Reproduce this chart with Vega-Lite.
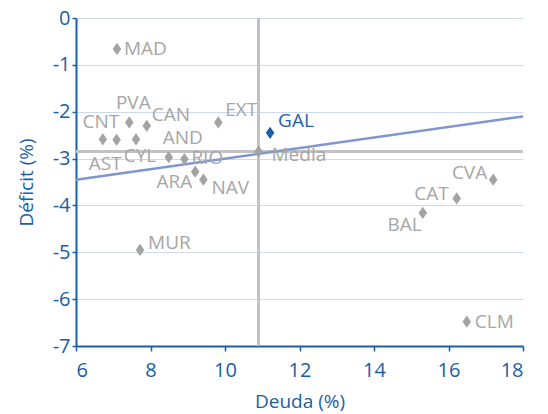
{
  "$schema": "https://vega.github.io/schema/vega-lite/v6.json",
  "width": 447,
  "height": 328,
  "autosize": {"type": "none"},
  "padding": {"left": 76, "top": 18, "right": 25, "bottom": 68},
  "background": "white",
  "config": {
    "view": {"stroke": null},
    "font": "Open Sans",
    "axis": {
      "labelFont": "Open Sans",
      "titleFont": "Open Sans",
      "labelFontSize": 20,
      "titleFontSize": 19,
      "labelColor": "#1a5ea6",
      "titleColor": "#1a5ea6",
      "titleFontWeight": "normal",
      "domainColor": "#1a5ea6",
      "domainWidth": 2,
      "tickColor": "#1a5ea6",
      "tickWidth": 1.5,
      "tickSize": 5,
      "gridColor": "#cfd9ee",
      "gridWidth": 1
    }
  },
  "datasets": {
    "pts": [
      {"name": "MAD", "deuda": 7.10, "deficit": -0.66},
      {"name": "PVA", "deuda": 7.43, "deficit": -2.23},
      {"name": "CAN", "deuda": 7.90, "deficit": -2.30},
      {"name": "CNT", "deuda": 6.72, "deficit": -2.59},
      {"name": "AST", "deuda": 7.09, "deficit": -2.60},
      {"name": "CYL", "deuda": 7.61, "deficit": -2.59},
      {"name": "EXT", "deuda": 9.82, "deficit": -2.23},
      {"name": "GAL", "deuda": 11.21, "deficit": -2.45},
      {"name": "AND", "deuda": 8.49, "deficit": -2.97},
      {"name": "RIO", "deuda": 8.91, "deficit": -3.01},
      {"name": "ARA", "deuda": 9.20, "deficit": -3.28},
      {"name": "NAV", "deuda": 9.42, "deficit": -3.45},
      {"name": "Media", "deuda": 10.90, "deficit": -2.85},
      {"name": "MUR", "deuda": 7.72, "deficit": -4.95},
      {"name": "CVA", "deuda": 17.20, "deficit": -3.45},
      {"name": "CAT", "deuda": 16.22, "deficit": -3.85},
      {"name": "BAL", "deuda": 15.31, "deficit": -4.16},
      {"name": "CLM", "deuda": 16.49, "deficit": -6.48}
    ],
    "trend": [
      {"deuda": 6, "deficit": -3.45},
      {"deuda": 18, "deficit": -2.10}
    ]
  },
  "layer": [
    {
      "data": {"name": "pts"},
      "mark": {"type": "rule", "color": "#c2c2c2", "strokeWidth": 3},
      "transform": [{"filter": "datum.name == 'Media'"}],
      "encoding": {
        "x": {"field": "deuda", "type": "quantitative", "scale": {"domain": [6, 18], "nice": false, "zero": false},
          "axis": {"title": "Deuda (%)", "values": [6, 8, 10, 12, 14, 16, 18], "grid": false, "labelPadding": 9, "titlePadding": 12, "labelExpr": "toString(datum.value)"}}
      }
    },
    {
      "data": {"name": "pts"},
      "mark": {"type": "rule", "color": "#c2c2c2", "strokeWidth": 3},
      "transform": [{"filter": "datum.name == 'Media'"}],
      "encoding": {
        "y": {"field": "deficit", "type": "quantitative", "scale": {"domain": [-7, 0], "nice": false, "zero": false},
          "axis": {"title": "Déficit (%)", "values": [0, -1, -2, -3, -4, -5, -6, -7], "grid": true, "tickSize": 4, "labelPadding": 2, "titlePadding": 16, "labelExpr": "toString(datum.value)"}}
      }
    },
    {
      "data": {"name": "trend"},
      "mark": {"type": "line", "color": "#7f97cf", "strokeWidth": 2.5},
      "encoding": {
        "x": {"field": "deuda", "type": "quantitative"},
        "y": {"field": "deficit", "type": "quantitative"}
      }
    },
    {
      "data": {"name": "pts"},
      "mark": {"type": "point", "shape": "M0,-1L0.7,0L0,1L-0.7,0Z", "filled": true, "opacity": 1, "size": 150},
      "encoding": {
        "x": {"field": "deuda", "type": "quantitative"},
        "y": {"field": "deficit", "type": "quantitative"},
        "color": {"condition": {"test": "datum.name == 'GAL'", "value": "#1f5fa8"}, "value": "#a3a3a3"}
      }
    },
    {
      "data": {"name": "pts"},
      "encoding": {
        "x": {"field": "deuda", "type": "quantitative"},
        "y": {"field": "deficit", "type": "quantitative"},
        "text": {"field": "name"},
        "color": {"condition": {"test": "datum.name == 'GAL'", "value": "#1f5fa8"}, "value": "#a6a6a6"}
      },
      "layer": [
        {"transform": [{"filter": "datum.name == 'MAD'"}], "mark": {"type": "text", "fontSize": 19, "align": "left", "baseline": "middle", "dx": 7, "dy": 0}},
        {"transform": [{"filter": "datum.name == 'CLM'"}], "mark": {"type": "text", "fontSize": 19, "align": "left", "baseline": "middle", "dx": 8, "dy": 0}},
        {"transform": [{"filter": "datum.name == 'RIO'"}], "mark": {"type": "text", "fontSize": 19, "align": "left", "baseline": "middle", "dx": 7, "dy": -1}},
        {"transform": [{"filter": "datum.name == 'MUR'"}], "mark": {"type": "text", "fontSize": 19, "align": "left", "baseline": "middle", "dx": 8, "dy": -7}},
        {"transform": [{"filter": "datum.name == 'GAL'"}], "mark": {"type": "text", "fontSize": 19, "align": "left", "baseline": "middle", "dx": 8, "dy": -12}},
        {"transform": [{"filter": "datum.name == 'EXT'"}], "mark": {"type": "text", "fontSize": 19, "align": "left", "baseline": "middle", "dx": 7, "dy": -12}},
        {"transform": [{"filter": "datum.name == 'CAN'"}], "mark": {"type": "text", "fontSize": 19, "align": "left", "baseline": "middle", "dx": 5, "dy": -11}},
        {"transform": [{"filter": "datum.name == 'Media'"}], "mark": {"type": "text", "fontSize": 19, "align": "left", "baseline": "middle", "dx": 13, "dy": 3}},
        {"transform": [{"filter": "datum.name == 'NAV'"}], "mark": {"type": "text", "fontSize": 19, "align": "left", "baseline": "middle", "dx": 8, "dy": 8}},
        {"transform": [{"filter": "datum.name == 'PVA'"}], "mark": {"type": "text", "fontSize": 19, "align": "center", "baseline": "middle", "dx": 4, "dy": -19}},
        {"transform": [{"filter": "datum.name == 'CNT'"}], "mark": {"type": "text", "fontSize": 19, "align": "center", "baseline": "middle", "dx": -2, "dy": -17}},
        {"transform": [{"filter": "datum.name == 'AND'"}], "mark": {"type": "text", "fontSize": 19, "align": "center", "baseline": "middle", "dx": 14, "dy": -19}},
        {"transform": [{"filter": "datum.name == 'CYL'"}], "mark": {"type": "text", "fontSize": 19, "align": "center", "baseline": "middle", "dx": 4, "dy": 17}},
        {"transform": [{"filter": "datum.name == 'AST'"}], "mark": {"type": "text", "fontSize": 19, "align": "right", "baseline": "middle", "dx": 5, "dy": 24}},
        {"transform": [{"filter": "datum.name == 'ARA'"}], "mark": {"type": "text", "fontSize": 19, "align": "right", "baseline": "middle", "dx": -3, "dy": 10}},
        {"transform": [{"filter": "datum.name == 'CVA'"}], "mark": {"type": "text", "fontSize": 19, "align": "right", "baseline": "middle", "dx": -6, "dy": -7}},
        {"transform": [{"filter": "datum.name == 'CAT'"}], "mark": {"type": "text", "fontSize": 19, "align": "right", "baseline": "middle", "dx": -8, "dy": -4}},
        {"transform": [{"filter": "datum.name == 'BAL'"}], "mark": {"type": "text", "fontSize": 19, "align": "right", "baseline": "middle", "dx": -1, "dy": 12}}
      ]
    }
  ]
}
